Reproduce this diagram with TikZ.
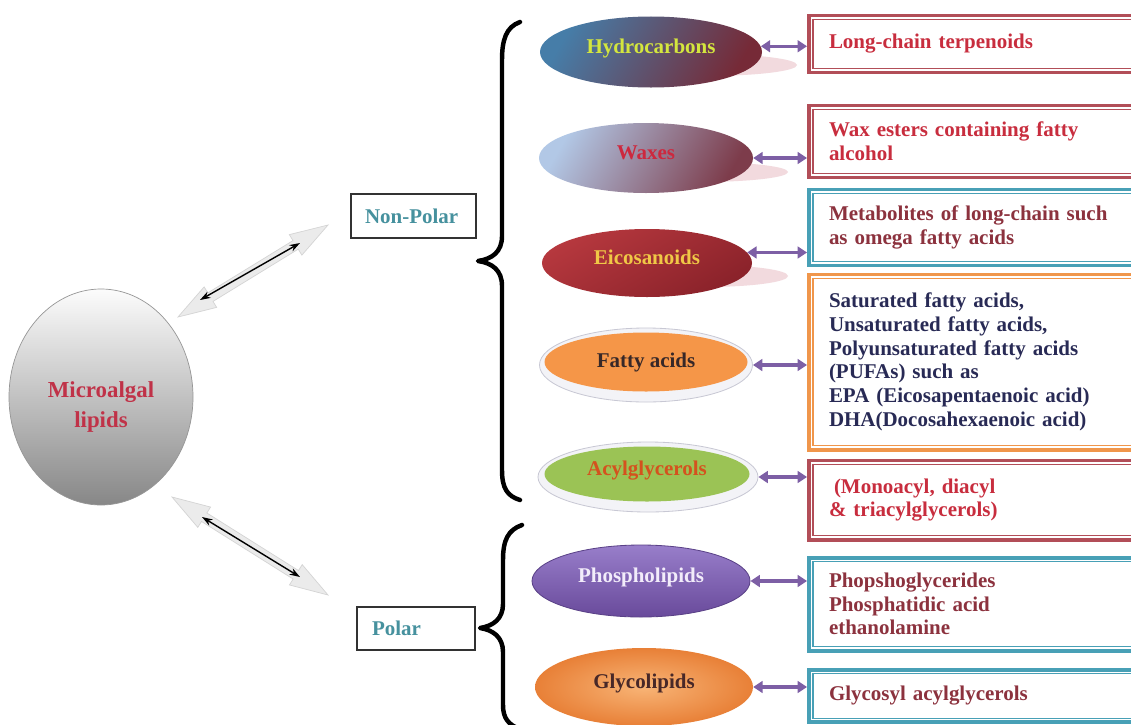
\documentclass[tikz,border=0pt]{standalone}
\usepackage{fontspec}
\setmainfont{Liberation Serif}
\usetikzlibrary{shapes.geometric,arrows.meta,calc}
\definecolor{bred}{RGB}{178,78,88}
\definecolor{bteal}{RGB}{72,160,182}
\definecolor{borange}{RGB}{240,150,75}
\definecolor{tred}{RGB}{200,45,62}
\definecolor{tmaroon}{RGB}{140,50,62}
\definecolor{tnavy}{RGB}{40,42,85}
\definecolor{tteal}{RGB}{70,145,158}
\definecolor{parrowc}{RGB}{125,95,165}
\definecolor{shadowc}{RGB}{242,218,222}
\definecolor{hcA}{RGB}{70,125,168}
\definecolor{hcB}{RGB}{118,42,55}
\definecolor{wxA}{RGB}{178,200,230}
\definecolor{wxB}{RGB}{125,60,75}
\definecolor{eiA}{RGB}{182,56,62}
\definecolor{eiB}{RGB}{138,34,42}
\definecolor{faC}{RGB}{245,150,72}
\definecolor{acC}{RGB}{155,195,85}
\definecolor{phA}{RGB}{152,126,202}
\definecolor{phB}{RGB}{105,74,155}
\definecolor{phD}{RGB}{90,65,135}
\definecolor{glA}{RGB}{248,180,118}
\definecolor{glB}{RGB}{232,128,55}
\definecolor{ringc}{RGB}{243,243,247}
\definecolor{ringd}{RGB}{200,200,212}
\definecolor{garrow}{RGB}{235,235,235}
\definecolor{garrowd}{RGB}{212,212,212}
\definecolor{hcT}{RGB}{212,230,62}
\definecolor{wxT}{RGB}{205,40,62}
\definecolor{eiT}{RGB}{240,200,70}
\definecolor{faT}{RGB}{55,40,40}
\definecolor{acT}{RGB}{212,82,30}
\definecolor{phT}{RGB}{242,236,250}
\definecolor{glT}{RGB}{72,40,40}
\definecolor{mlT}{RGB}{192,50,72}
\begin{document}
\begin{tikzpicture}[x=0.03cm,y=-0.03cm,
  lbl/.style={font=\fontsize{17.9pt}{20.2pt}\selectfont\bfseries},
  infobox/.style={rectangle, draw=#1, line width=3.4pt, fill=white,
    minimum width=10.05cm, text width=8.85cm, inner xsep=0.6cm, inner ysep=0pt,
    align=left, anchor=west, lbl},
  ell/.style={ellipse, inner sep=0pt, lbl, text height=12.8pt, text depth=11pt},
  catbox/.style={rectangle, draw={rgb,255:red,50;green,50;blue,50}, line width=1.2pt,
    fill=white, inner ysep=0pt, align=left, lbl, text=tteal},
  parrow/.style={draw=parrowc, line width=2.6pt,
    {Triangle[length=8pt,width=10pt]}-{Triangle[length=8pt,width=10pt]}},
  barrow/.style={draw=black, line width=1.2pt,
    {Stealth[length=9pt,width=6pt]}-{Stealth[length=9pt,width=6pt]}},
  bigarrow/.style={fill=garrow, draw=garrowd, line width=0.6pt},
  bracel/.style={draw=black, line width=3.8pt, line cap=round, line join=round}
]
\useasboundingbox (0,0) rectangle (1131,724);
\fill[white] (0,0) rectangle (1131,724);
\clip (0,0) rectangle (1131,724);

% ---- central node
\node[ellipse, minimum width=5.52cm, minimum height=6.48cm, inner sep=0pt,
  top color={rgb,255:red,252;green,252;blue,252}, bottom color={rgb,255:red,135;green,135;blue,135},
  draw={rgb,255:red,150;green,150;blue,150}, line width=0.6pt,
  align=center, font=\fontsize{19.5pt}{25.6pt}\selectfont\bfseries, text=mlT]
  (mal) at (101,397) {\rule{0pt}{1.05cm}Microalgal\\lipids};

% ---- category boxes
\node[catbox, minimum width=3.75cm, minimum height=1.32cm, text width=2.91cm, inner xsep=0.42cm]
  (np) at (413.5,216) {Non-Polar};
\node[catbox, minimum width=3.54cm, minimum height=1.29cm, text width=2.64cm, inner xsep=0.45cm]
  (po) at (416,628.5) {Polar};

% ---- big gray double arrows with black inner arrows
\newcommand{\grayarrow}[2]{%
  \coordinate (gh1) at ($(#1)!1.14cm!(#2)$);
  \coordinate (gh2) at ($(#2)!1.14cm!(#1)$);
  \path[bigarrow] (#1) -- ($(gh1)!0.36cm!90:(#2)$) -- ($(gh1)!0.15cm!90:(#2)$)
    -- ($(gh2)!0.15cm!-90:(#1)$) -- ($(gh2)!0.36cm!-90:(#1)$) -- (#2)
    -- ($(gh2)!0.36cm!90:(#1)$) -- ($(gh2)!0.15cm!90:(#1)$)
    -- ($(gh1)!0.15cm!-90:(#2)$) -- ($(gh1)!0.36cm!-90:(#2)$) -- cycle;}
\coordinate (gaA1) at (178,317);
\coordinate (gaA2) at (328,225);
\coordinate (gaB1) at (172,497);
\coordinate (gaB2) at (328,595);
\coordinate (bkA1) at (200,300);
\coordinate (bkA2) at (300,243);
\coordinate (bkB1) at (202,517);
\coordinate (bkB2) at (300,577);
\grayarrow{gaA1}{gaA2}
\grayarrow{gaB1}{gaB2}
\draw[barrow] (bkA1) -- (bkA2);
\draw[barrow] (bkB1) -- (bkB2);

% ---- braces
\draw[bracel] (520,22) .. controls (506,27) and (502,40) .. (502,60) -- (502,236)
  .. controls (502,252) and (492,259) .. (478,261)
  .. controls (492,263) and (502,270) .. (502,286) -- (502,470)
  .. controls (502,488) and (507,496) .. (520,500);
\draw[bracel] (522,525) .. controls (508,530) and (503,540) .. (503,560) -- (503,604)
  .. controls (503,619) and (493,626) .. (480,628)
  .. controls (493,630) and (503,637) .. (503,652) -- (503,705)
  .. controls (503,718) and (508,725) .. (522,730);

% ---- shadows
\fill[shadowc] (705,65) ellipse [x radius=92, y radius=11];
\fill[shadowc] (700,172) ellipse [x radius=88, y radius=10];
\fill[shadowc] (705,276) ellipse [x radius=83, y radius=11];

% ---- lipid class ellipses
\node[ell, minimum width=6.66cm, minimum height=2.13cm,
  top color=hcA, bottom color=hcB, shading angle=60, text=hcT] (e1) at (651,52) {Hydrocarbons};
\node[ell, minimum width=6.42cm, minimum height=2.1cm,
  top color=wxA, bottom color=wxB, shading angle=60, text=wxT] (e2) at (646,158) {Waxes};
\node[ell, minimum width=6.3cm, minimum height=2.04cm,
  top color=eiA, bottom color=eiB, shading angle=30, text=eiT] (e3) at (647,263) {Eicosanoids};
\node[ellipse, minimum width=6.39cm, minimum height=2.22cm, inner sep=0pt,
  fill=ringc, draw=ringd, line width=0.7pt] (e4r) at (646,365) {};
\node[ellipse, minimum width=6.09cm, minimum height=1.77cm, inner sep=0pt, lbl,
  fill=faC, text=faT] (e4) at (646,362) {Fatty acids};
\node[ellipse, minimum width=6.6cm, minimum height=2.1cm, inner sep=0pt,
  fill=ringc, draw=ringd, line width=0.7pt] (e5r) at (648,477) {};
\node[ell, minimum width=6.15cm, minimum height=1.65cm,
  fill=acC, text=acT] (e5) at (647,474) {Acylglycerols};
\node[ell, minimum width=6.54cm, minimum height=2.16cm,
  top color=phA, bottom color=phB, draw=phD, line width=0.7pt, text=phT] (e6) at (641,581) {Phospholipids};
\node[ell, minimum width=6.54cm, minimum height=2.34cm,
  inner color=glA, outer color=glB, text=glT] (e7) at (644,687) {Glycolipids};

% ---- description boxes
\node[infobox=bred, minimum height=1.71cm, text=tred] (b1) at (807,44) {Long-chain terpenoids};
\node[infobox=bred, minimum height=2.16cm, text=tred] (b2) at (807,141.5) {Wax esters containing fatty\\alcohol};
\node[infobox=bteal, minimum height=2.28cm, text=tmaroon] (b3) at (807,227.5) {Metabolites of long-chain such\\as omega fatty acids};
\node[infobox=borange, minimum height=5.25cm, text=tnavy] (b4) at (807,362) {Saturated fatty acids,\\Unsaturated fatty acids,\\Polyunsaturated fatty acids\\(PUFAs) such as\\EPA (Eicosapentaenoic acid)\\DHA(Docosahexaenoic acid)};
\node[infobox=bred, minimum height=2.37cm, text=tred] (b5) at (807,500) {\hspace*{0.15cm}(Monoacyl, diacyl\\\& triacylglycerols)};
\node[infobox=bteal, minimum height=2.79cm, text=tmaroon] (b6) at (807,604) {Phopshoglycerides\\Phosphatidic acid\\ethanolamine};
\node[infobox=bteal, minimum height=1.575cm, text=tmaroon] (b7) at (807,696) {Glycosyl acylglycerols};

\foreach \bn/\bc in {b1/bred,b2/bred,b3/bteal,b4/borange,b5/bred,b6/bteal,b7/bteal}
  \draw[draw=\bc, line width=0.9pt] ([shift={(6,6)}]\bn.north west) rectangle ([shift={(-6,-6)}]\bn.south east);

% ---- purple connectors
\draw[parrow] (e1.3) -- (e1.3 -| b1.west);
\draw[parrow] (e2.east) -- (e2.east -| b2.west);
\draw[parrow] (e3.6) -- (e3.6 -| b3.west);
\draw[parrow] (e4r.east) -- (e4r.east -| b4.west);
\draw[parrow] (e5r.east) -- (e5r.east -| b5.west);
\draw[parrow] (e6.east) -- (e6.east -| b6.west);
\draw[parrow] (e7.east) -- (e7.east -| b7.west);
\end{tikzpicture}
\end{document}
